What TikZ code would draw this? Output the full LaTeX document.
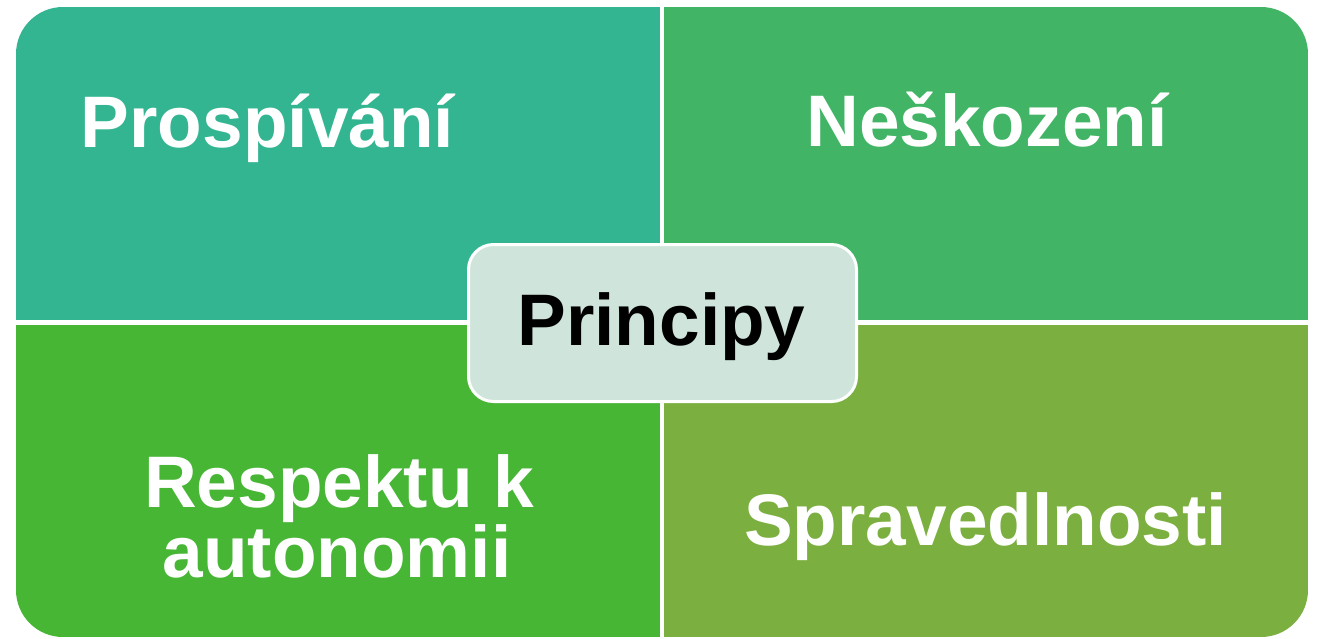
\documentclass[tikz,border=0pt]{standalone}
\usepackage{fontspec}
\setmainfont{Liberation Sans}
\definecolor{qtl}{RGB}{51,181,145}
\definecolor{qtr}{RGB}{65,180,101}
\definecolor{qbl}{RGB}{70,182,52}
\definecolor{qbr}{RGB}{123,175,63}
\definecolor{cbox}{RGB}{207,229,220}
\tikzset{
  quadtext/.style={anchor=base, text=white, font=\fontsize{73}{73}\selectfont\bfseries, inner sep=0pt},
  centertext/.style={anchor=base, text=black, font=\fontsize{73}{73}\selectfont\bfseries, inner sep=0pt},
  centerbox/.style={draw=white, line width=3pt, fill=cbox, rounded corners=25pt, minimum width=388pt, minimum height=157pt, inner sep=0pt}
}
\begin{document}
\begin{tikzpicture}[x=1pt,y=-1pt]
\useasboundingbox (0,0) rectangle (1317,638);
\fill[white] (0,0) rectangle (1317,638);
\begin{scope}
\clip[rounded corners=47pt] (16,7) rectangle (1308,637);
\fill[qtl] (16,7) rectangle (660,320);
\fill[qtr] (664,7) rectangle (1308,320);
\fill[qbl] (16,325) rectangle (660,637);
\fill[qbr] (664,325) rectangle (1308,637);
\end{scope}
\node[quadtext] (tl) at (267.5,147) {Prospívání};
\node[quadtext] (tr) at (987,146) {Neškození};
\node[quadtext] (bl1) at (339,507) {Respektu k};
\node[quadtext] (bl2) at (337,577) {autonomii};
\node[quadtext] (br) at (985.5,545) {Spravedlnosti};
\node[centerbox] (box) at (662.5,323) {};
\node[centertext] (ctr) at (661.5,345) {Principy};
\end{tikzpicture}
\end{document}
